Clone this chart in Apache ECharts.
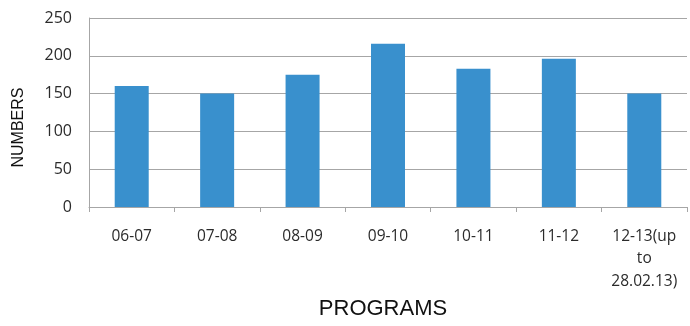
<!DOCTYPE html>
<html><head><meta charset="utf-8">
<script src="https://cdn.jsdelivr.net/npm/echarts@6/dist/echarts.min.js"></script>
<style>html,body{margin:0;padding:0;background:#fff}#c{width:690px;height:326px}</style>
</head><body><div id="c"></div>
<script>
const categories = ['06-07', '07-08', '08-09', '09-10', '10-11', '11-12', '12-13(up\nto\n28.02.13)'];
const numbers = [160, 150, 175, 216, 183, 196, 150];
const yTicks = [0, 50, 100, 150, 200, 250];
const xTitle = 'PROGRAMS';
const yTitle = 'NUMBERS';

const chart = echarts.init(document.getElementById('c'), null, {renderer: 'canvas'});
chart.setOption({
  animation: false,
  grid: {left: 89, right: 3, top: 18, bottom: 119, containLabel: false},
  xAxis: {
    type: 'category', data: categories, boundaryGap: true,
    axisLine: {lineStyle: {color: '#a6a6a6', width: 1}},
    axisTick: {show: true, alignWithLabel: false, length: 5, lineStyle: {color: '#a6a6a6'}},
    axisLabel: {color: '#2b2b2b', fontFamily: 'Open Sans', fontSize: 15.5, margin: 18, lineHeight: 22.5, interval: 0}
  },
  yAxis: {
    type: 'value', min: yTicks[0], max: yTicks[yTicks.length - 1], interval: 50,
    axisLine: {show: true, lineStyle: {color: '#a6a6a6', width: 1}},
    axisTick: {show: false},
    splitLine: {lineStyle: {color: '#a6a6a6', width: 1}},
    axisLabel: {color: '#2b2b2b', fontFamily: 'Open Sans', fontSize: 16, margin: 17}
  },
  series: [{
    type: 'bar', data: numbers, barWidth: 34,
    itemStyle: {color: '#3990cd'}
  }],
  graphic: [
    {type: 'text', x: 383, y: 309, style: {text: xTitle, fontFamily: 'Liberation Sans', fontSize: 22, fill: '#111', textAlign: 'center', textVerticalAlign: 'middle'}},
    {type: 'text', x: 19, y: 127.5, rotation: Math.PI / 2, style: {text: yTitle, fontFamily: 'Liberation Sans', fontSize: 16, fill: '#111', textAlign: 'center', textVerticalAlign: 'middle'}}
  ]
});
</script></body></html>
